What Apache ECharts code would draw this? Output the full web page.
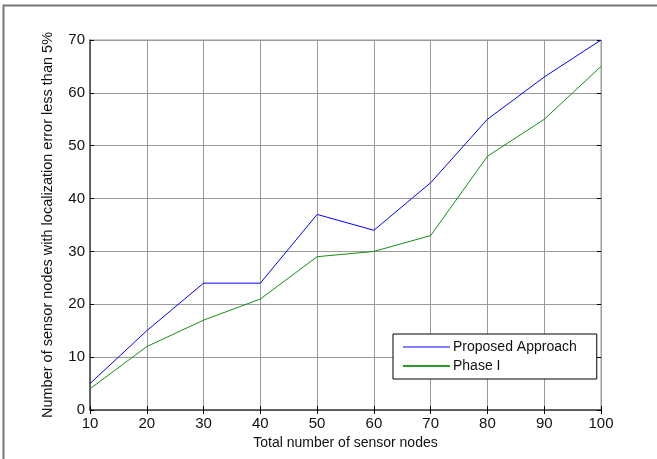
<!DOCTYPE html>
<html><head><meta charset="utf-8">
<script src="https://cdn.jsdelivr.net/npm/echarts@6/dist/echarts.min.js"></script>
<style>html,body{margin:0;padding:0;background:#fff}#c{width:657px;height:459px}</style>
</head><body><div id="c"></div>
<script>
const categories = [10, 20, 30, 40, 50, 60, 70, 80, 90, 100];
const proposedApproach = [5, 15, 24, 24, 37, 34, 43, 55, 63, 70];
const phaseI = [4, 12, 17, 21, 29, 30, 33, 48, 55, 65];
const seriesNames = ['Proposed Approach', 'Phase I'];
const xTitle = 'Total number of sensor nodes';
const yTitle = 'Number of sensor nodes with localization error less than 5%';

const chart = echarts.init(document.getElementById('c'), null, {renderer: 'canvas'});
const font = 'Arial, "Liberation Sans", sans-serif';
const gridLine = {show: true, lineStyle: {color: '#9a9a9a', width: 1, type: 'solid'}};
const colors = ['#0000ff', '#119011'];
chart.setOption({
  animation: false,
  graphic: [{type: 'rect', shape: {x: 3.5, y: 5.5, width: 700, height: 500}, style: {fill: 'none', stroke: '#777', lineWidth: 2}, z: 0}],
  grid: {left: 90, right: 56, top: 40, bottom: 49, show: true, borderColor: '#9a9a9a', borderWidth: 1},
  legend: {
    orient: 'vertical', left: 393, top: 334, width: 204,
    backgroundColor: '#fff', borderColor: '#000', borderWidth: 1,
    padding: [6, 20, 6, 10], itemGap: 5,
    itemWidth: 47, itemHeight: 2,
    textStyle: {fontFamily: font, fontSize: 14, color: '#111', padding: [0, 0, 0, -2]},
    data: seriesNames.map((n, i) => ({name: n, icon: 'rect', itemStyle: {color: colors[i], opacity: i === 0 ? 0.5 : 0.9}}))
  },
  xAxis: [{
    type: 'value', min: 10, max: 100, interval: 10,
    name: xTitle, nameLocation: 'middle', nameGap: 24,
    nameTextStyle: {fontFamily: font, fontSize: 14, color: '#111'},
    axisLine: {show: true, lineStyle: {color: '#444', width: 1.5}},
    axisTick: {show: true, inside: true, length: 4, lineStyle: {color: '#000'}},
    axisLabel: {fontFamily: font, fontSize: 15, color: '#111', margin: 6},
    splitLine: gridLine
  }, {
    type: 'value', position: 'top', min: 10, max: 100, interval: 10,
    axisLine: {show: false}, axisLabel: {show: false}, splitLine: {show: false},
    axisTick: {show: true, inside: true, length: 4, lineStyle: {color: '#000'}}
  }],
  yAxis: [{
    type: 'value', min: 0, max: 70, interval: 10,
    name: yTitle, nameLocation: 'middle', nameGap: 35,
    nameTextStyle: {fontFamily: font, fontSize: 14.5, color: '#111'},
    axisLine: {show: true, lineStyle: {color: '#444', width: 1.5}},
    axisTick: {show: true, inside: true, length: 4, lineStyle: {color: '#000'}},
    axisLabel: {fontFamily: font, fontSize: 15, color: '#111', margin: 5},
    splitLine: gridLine
  }, {
    type: 'value', position: 'right', min: 0, max: 70, interval: 10,
    axisLine: {show: false}, axisLabel: {show: false}, splitLine: {show: false},
    axisTick: {show: true, inside: true, length: 4, lineStyle: {color: '#000'}}
  }],
  series: [
    {name: seriesNames[0], type: 'line', data: categories.map((x, i) => [x, proposedApproach[i]]),
     showSymbol: false, lineStyle: {color: colors[0], width: 1}, itemStyle: {color: colors[0]}},
    {name: seriesNames[1], type: 'line', data: categories.map((x, i) => [x, phaseI[i]]),
     showSymbol: false, lineStyle: {color: colors[1], width: 1}, itemStyle: {color: colors[1]}}
  ]
});
</script></body></html>
